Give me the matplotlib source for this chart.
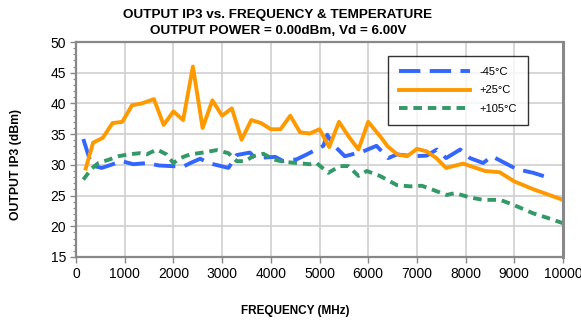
import matplotlib.pyplot as plt
from matplotlib.ticker import MultipleLocator

plt.rcParams["font.family"] = ["Liberation Sans", "DejaVu Sans"]

# -45C
freq_cold = [150, 320, 530, 940, 1180, 1450, 1700, 2200, 2350, 2550, 2720, 3130, 3300, 3570,
             3680, 4090, 4260, 4530, 4740, 5080, 5160, 5280, 5520, 5900, 6170, 6410, 6590,
             6930, 7200, 7410, 7600, 7890, 8090, 8360, 8540, 8880, 9050, 9390, 9630]
ip3_cold = [34.2, 29.9, 29.5, 30.6, 30.1, 30.3, 29.9, 29.7, 30.3, 31.0, 30.3, 29.5, 31.6, 32.0,
            31.1, 31.3, 30.6, 30.9, 31.7, 33.1, 34.9, 33.3, 31.4, 32.2, 33.1, 31.1, 31.7,
            31.4, 31.5, 32.5, 31.1, 32.5, 31.1, 30.3, 31.4, 30.0, 29.3, 28.7, 28.1]

# +25C
freq_room = [200, 350, 550, 750, 950, 1150, 1350, 1600, 1800, 2000, 2200, 2400, 2600, 2800,
             3000, 3200, 3400, 3600, 3800, 4000, 4200, 4400, 4600, 4800, 5000, 5200, 5400,
             5600, 5800, 6000, 6250, 6400, 6600, 6800, 7000, 7200, 7400, 7600, 7950, 8400,
             8700, 9000, 9400, 10000]
ip3_room = [29.4, 33.6, 34.4, 36.8, 37.0, 39.7, 40.0, 40.7, 36.5, 38.7, 37.3, 46.0, 36.0, 40.5,
            38.0, 39.2, 34.1, 37.3, 36.8, 35.8, 35.8, 38.0, 35.3, 35.1, 35.8, 32.9, 37.0,
            34.6, 32.5, 37.0, 34.6, 33.0, 31.7, 31.4, 32.6, 32.2, 31.1, 29.5, 30.2, 29.0,
            28.8, 27.3, 26.0, 24.3]

# +105C
freq_hot = [150, 320, 460, 660, 870, 1070, 1310, 1450, 1660, 1860, 2000, 2140, 2340, 2610,
            2890, 3130, 3300, 3470, 3640, 3850, 4050, 4260, 4530, 4800, 4940, 5180, 5420,
            5590, 5800, 5970, 6240, 6590, 6860, 7100, 7340, 7610, 7780, 8090, 8360, 8710,
            8980, 9390, 9670, 10000]
ip3_hot = [27.6, 29.4, 30.3, 30.8, 31.4, 31.7, 31.9, 31.7, 32.5, 31.7, 30.3, 31.1, 31.7, 32.0,
           32.4, 31.9, 30.6, 30.6, 31.4, 31.8, 30.9, 30.5, 30.3, 30.1, 30.3, 28.7, 29.8,
           29.8, 28.2, 29.0, 28.2, 26.7, 26.5, 26.6, 25.9, 25.1, 25.4, 24.7, 24.3, 24.3,
           23.5, 22.1, 21.4, 20.5]

fig = plt.figure(figsize=(5.81, 3.22), dpi=100)
ax = fig.add_axes([76 / 581, 1 - 257 / 322, 487 / 581, 215 / 322])

ax.plot(freq_cold, ip3_cold, color="#3366FF", lw=2.8, dashes=(5.5, 2.4), label="-45°C")
ax.plot(freq_room, ip3_room, color="#FF9900", lw=2.8, label="+25°C")
ax.plot(freq_hot, ip3_hot, color="#339966", lw=2.8, dashes=(2.2, 1.5), label="+105°C")

ax.set_xlim(0, 10000)
ax.set_ylim(15, 50)
ax.xaxis.set_major_locator(MultipleLocator(1000))
ax.yaxis.set_major_locator(MultipleLocator(5))
ax.yaxis.set_minor_locator(MultipleLocator(1))
ax.grid(True, which="major", color="#d0d0d0", lw=1.2)
ax.set_axisbelow(True)
for s in ax.spines.values():
    s.set_color("#888888")
    s.set_linewidth(1.6)
ax.spines["right"].set_linewidth(2.2)
ax.tick_params(which="major", length=4, width=1, color="#888888", labelsize=10, pad=3)
ax.tick_params(which="minor", length=2, width=0.8, color="#888888")

fig.text(278 / 581, 1 - 15 / 322, "OUTPUT IP3 vs. FREQUENCY & TEMPERATURE",
         ha="center", va="center", fontsize=9.7, fontweight="bold")
fig.text(278 / 581, 1 - 31 / 322, "OUTPUT POWER = 0.00dBm, Vd = 6.00V",
         ha="center", va="center", fontsize=9.7, fontweight="bold")
fig.text(295 / 581, 1 - 311 / 322, "FREQUENCY (MHz)", ha="center", va="center",
         fontsize=8.5, fontweight="bold")
fig.text(16 / 581, 1 - 164 / 322, "OUTPUT IP3 (dBm)", ha="center", va="center",
         rotation=90, fontsize=8.8, fontweight="bold")

leg = ax.legend(loc="upper left", bbox_to_anchor=((388 - 76) / 487, 1 - (56 - 42) / 215),
                borderaxespad=0, frameon=True, fancybox=False, fontsize=8, handlelength=6.4,
                labelspacing=0.75, borderpad=1.0, handletextpad=0.8)
leg.get_frame().set_edgecolor("black")
leg.get_frame().set_linewidth(1.0)

fig.savefig("out.png", dpi=100)
